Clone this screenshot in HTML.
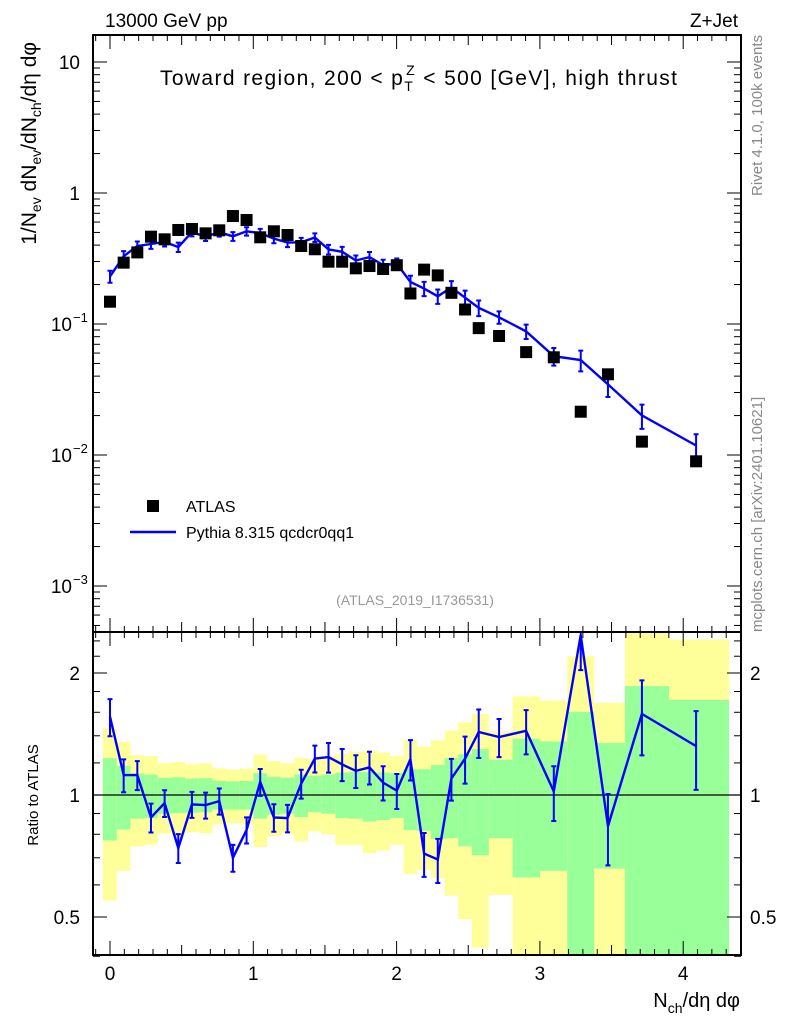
<!DOCTYPE html>
<html><head><meta charset="utf-8"><style>
body{margin:0;background:#fff;}
svg{display:block;font-family:"Liberation Sans",Arial,sans-serif;}
</style></head><body>
<svg id="c" width="786" height="1024" viewBox="0 0 786 1024"></svg>
<script>
const xs=[0,0.0953,0.1906,0.2859,0.3812,0.4765,0.5718,0.6671,0.7624,0.8577,0.953,1.0483,1.1436,1.2389,1.3342,1.4295,1.5248,1.6201,1.7154,1.8107,1.906,2.0013,2.0966,2.1919,2.2872,2.3825,2.4778,2.5731,2.715,2.904,3.097,3.285,3.475,3.712,4.09];
const atlas=[0.148,0.294,0.352,0.464,0.443,0.522,0.531,0.492,0.519,0.667,0.622,0.459,0.51,0.478,0.394,0.372,0.299,0.299,0.266,0.277,0.263,0.281,0.171,0.26,0.235,0.173,0.129,0.093,0.081,0.061,0.0557,0.0214,0.0413,0.01265,0.00895];
const ratio=[1.56,1.12,1.12,0.88,0.955,0.74,0.948,0.944,0.966,0.70,0.82,1.077,0.88,0.877,1.067,1.23,1.24,1.19,1.147,1.17,1.073,1.025,1.226,0.717,0.693,1.098,1.23,1.43,1.39,1.44,1.02,2.48,0.838,1.585,1.32];
const mcErr=[.105,.093,.082,.082,.076,.082,.074,.074,.074,.076,.074,.076,.078,.078,.082,.076,.084,.091,.093,.093,.097,.099,.114,.124,.125,.118,.133,.137,.108,.125,.154,.18,.2,.21,.22];
const yelTop=[1.461,1.354,1.254,1.247,1.198,1.205,1.191,1.198,1.164,1.156,1.162,1.259,1.212,1.198,1.235,1.226,1.249,1.264,1.278,1.286,1.273,1.247,1.367,1.315,1.364,1.441,1.512,1.585,1.436,1.753,1.711,2.2,1.688,3,2.42];
const grnTop=[1.233,1.18,1.13,1.123,1.102,1.106,1.098,1.1,1.085,1.081,1.083,1.132,1.11,1.104,1.123,1.115,1.123,1.136,1.14,1.14,1.136,1.132,1.158,1.158,1.187,1.233,1.261,1.298,1.222,1.377,1.356,1.604,1.343,1.856,1.717];
const grnBot=[0.772,0.822,0.874,0.877,0.899,0.902,0.904,0.907,0.921,0.921,0.92,0.874,0.894,0.9,0.882,0.907,0.899,0.877,0.874,0.86,0.867,0.877,0.819,0.816,0.779,0.782,0.747,0.71,0.782,0.626,0.65,0.3,0.658,0.3,0.3];
const yelBot=[0.549,0.65,0.747,0.754,0.803,0.803,0.81,0.805,0.846,0.851,0.846,0.744,0.791,0.803,0.768,0.814,0.799,0.753,0.753,0.719,0.729,0.754,0.638,0.654,0.624,0.564,0.494,0.42,0.567,0.3,0.3,0.3,0.3,0.3,0.3];
const xTicks=[0,1,2,3,4];
const ratioTicks=[0.5,1,2];

const svg=document.getElementById('c');const NS='http://www.w3.org/2000/svg';
function mk(t,a,p){const e=document.createElementNS(NS,t);for(const k in a)e.setAttribute(k,a[k]);(p||svg).appendChild(e);return e;}
const L=93,R=741,T=35,M=632,B=955;
const X=v=>110+v*143.3;
const YM=v=>193-131*Math.log10(v);
const YR=v=>795-122*Math.log2(v);
const edges=[-0.05];for(let i=0;i<xs.length-1;i++)edges.push((xs[i]+xs[i+1])/2);edges.push(4.32);

const gR=mk('g',{'clip-path':'url(#cr)'});
const cp=mk('clipPath',{id:'cr'});mk('rect',{x:L,y:M,width:R-L,height:B-M},cp);
const cm=mk('clipPath',{id:'cm'});mk('rect',{x:L,y:T,width:R-L,height:M-T},cm);
for(let i=0;i<xs.length;i++){
 const x0=X(edges[i]),x1=X(edges[i+1]);
 const y=mk('rect',{x:x0,y:YR(yelTop[i]),width:x1-x0,height:YR(yelBot[i])-YR(yelTop[i]),fill:'#ffff99'},gR);
 
 
 const g=mk('rect',{x:x0,y:YR(grnTop[i]),width:x1-x0,height:YR(grnBot[i])-YR(grnTop[i]),fill:'#99ff99'},gR);
 
 
}
mk('line',{x1:L,x2:R,y1:YR(1),y2:YR(1),stroke:'#000','stroke-width':1.2},gR);

function series(g,yf,vals,errs,name){
 let d='';vals.forEach((v,i)=>{d+=(i?'L':'M')+X(xs[i]).toFixed(1)+','+yf(v).toFixed(1);});
 const p=mk('path',{d:d,fill:'none',stroke:'#0000ff','stroke-width':2.4},g);
 
 
 vals.forEach((v,i)=>{const x=X(xs[i]),y0=yf(v*(1+errs[i])),y1=yf(v*(1-errs[i]));
  const e=mk('path',{d:`M${x},${y0}V${y1}M${x-2.5},${y0}h5M${x-2.5},${y1}h5`,stroke:'#0000ff','stroke-width':2,fill:'none'},g);
  
  });
}
series(gR,YR,ratio,mcErr,'ratio');
const gM=mk('g',{'clip-path':'url(#cm)'});
const mc=atlas.map((a,i)=>a*ratio[i]);
series(gM,YM,mc,mcErr,'pythia');
atlas.forEach((v,i)=>{const r=mk('rect',{x:X(xs[i])-6,y:YM(v)-6,width:12,height:12,fill:'#000'},gM);
 
 });

mk('rect',{x:L,y:T,width:R-L,height:M-T,fill:'none',stroke:'#000','stroke-width':2});
mk('rect',{x:L,y:M,width:R-L,height:B-M,fill:'none',stroke:'#000','stroke-width':2});
for(let k=-1;k<=43;k++){const v=k/10,x=X(v);if(x<L||x>R)continue;
 const len=(k%10===0)?14:(k%5===0?10:6);
 for(const [yb,dir] of [[M,-1],[T,1],[B,-1],[M,1]]) mk('line',{x1:x,x2:x,y1:yb,y2:yb+dir*len,stroke:'#000','stroke-width':1});}
xTicks.forEach(v=>{const t=mk('text',{x:X(v),y:980,'font-size':19,'text-anchor':'middle'});t.textContent=v;
 
 });
for(let e=-4;e<=1;e++)for(let m=1;m<10;m++){const v=m*Math.pow(10,e),y=YM(v);if(y<T||y>M)continue;const len=m===1?14:7;
 mk('line',{x1:L,x2:L+len,y1:y,y2:y,stroke:'#000'});mk('line',{x1:R,x2:R-len,y1:y,y2:y,stroke:'#000'});}
const lab=[[10,'10',''],[1,'1',''],[0.1,'10','−1'],[0.01,'10','−2'],[0.001,'10','−3']];
lab.forEach(([v,b,s])=>{const t=mk('text',{x:s?72:80,y:YM(v)+7,'font-size':19,'text-anchor':'end'});t.textContent=b;
 
 
 if(s){const u=mk('text',{x:73,y:YM(v)-2,'font-size':13});u.textContent=s;}});
for(const v of [0.4,0.5,0.6,0.7,0.8,0.9,1,1.2,1.4,1.6,1.8,2,2.2,2.4]){const y=YR(v);const len=([0.5,1,2].includes(v))?14:7;
 mk('line',{x1:L,x2:L+len,y1:y,y2:y,stroke:'#000'});mk('line',{x1:R,x2:R-len,y1:y,y2:y,stroke:'#000'});}
ratioTicks.forEach(v=>{const a=mk('text',{x:80,y:YR(v)+7,'font-size':19,'text-anchor':'end'});a.textContent=v;
 
 
 const b=mk('text',{x:750,y:YR(v)+7,'font-size':19});b.textContent=v;
 
 });
</script>
<svg width="786" height="1024" style="position:absolute;left:0;top:0">
<text x="105" y="27" font-size="19" font-family="Liberation Sans">13000 GeV pp</text>
<text x="738" y="27" font-size="19" font-family="Liberation Sans" text-anchor="end">Z+Jet</text>
<text x="160" y="85" font-size="21" font-family="Liberation Sans" textLength="517" lengthAdjust="spacing">Toward region, 200 &lt; p<tspan font-size="14" dy="6">T</tspan><tspan font-size="14" dx="-8" dy="-16">Z</tspan><tspan dy="10"> &lt; 500 [GeV], high thrust</tspan></text>
<text transform="translate(36,42) rotate(-90)" font-size="21" font-family="Liberation Sans" text-anchor="end">1/N<tspan font-size="14" dy="5">ev</tspan><tspan dy="-5"> dN</tspan><tspan font-size="14" dy="5">ev</tspan><tspan dy="-5">/dN</tspan><tspan font-size="14" dy="5">ch</tspan><tspan dy="-5">/dη dφ</tspan></text>
<text transform="translate(38,795) rotate(-90)" font-size="15" font-family="Liberation Sans" text-anchor="middle">Ratio to ATLAS</text>
<text transform="translate(762,35) rotate(-90)" font-size="15" fill="#888" font-family="Liberation Sans" text-anchor="end">Rivet 4.1.0,  100k events</text>
<text transform="translate(762,632) rotate(-90)" font-size="15" fill="#888" font-family="Liberation Sans">mcplots.cern.ch [arXiv:2401.10621]</text>
<text x="415" y="605" font-size="14" fill="#999" font-family="Liberation Sans" text-anchor="middle">(ATLAS_2019_I1736531)</text>
<rect x="147" y="500" width="12" height="12" fill="#000"/>
<text x="186" y="512" font-size="16" font-family="Liberation Sans">ATLAS</text>
<line x1="130" x2="176" y1="532" y2="532" stroke="#0000ff" stroke-width="2.4"/>
<text x="186" y="538" font-size="16" font-family="Liberation Sans">Pythia 8.315 qcdcr0qq1</text>
<text x="740" y="1007" font-size="20" font-family="Liberation Sans" text-anchor="end">N<tspan font-size="14" dy="6">ch</tspan><tspan dy="-6">/dη dφ</tspan></text>
</svg>
</body></html>
